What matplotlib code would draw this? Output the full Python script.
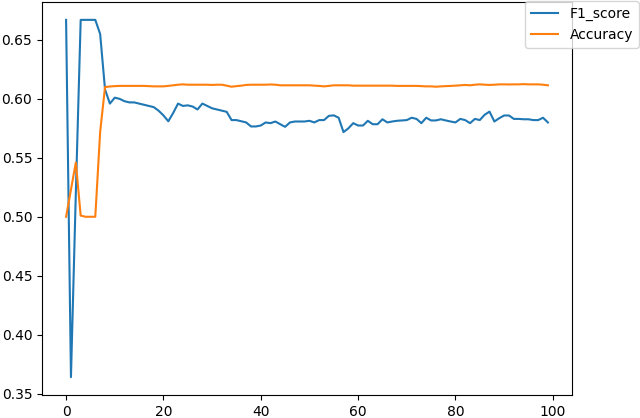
import numpy as np
import matplotlib
matplotlib.use('Agg')
import matplotlib.pyplot as plt

# F1 score per epoch
f1_score = [
    0.667, 0.364, 0.520, 0.667, 0.667, 0.667, 0.667, 0.655, 0.608, 0.596,
    0.601, 0.600, 0.598, 0.597, 0.597, 0.596, 0.595, 0.594, 0.593, 0.590,
    0.586, 0.581, 0.588, 0.596, 0.594, 0.5945, 0.5935, 0.591, 0.596, 0.594,
    0.592, 0.591, 0.590, 0.589, 0.582, 0.582, 0.581, 0.580, 0.5766, 0.5766,
    0.5774, 0.580, 0.5794, 0.5808, 0.5785, 0.5763, 0.580, 0.5808, 0.5808, 0.5808,
    0.5814, 0.580, 0.582, 0.582, 0.5856, 0.586, 0.584, 0.5718, 0.575, 0.5794,
    0.5774, 0.5774, 0.5814, 0.5785, 0.5785, 0.5827, 0.580, 0.5808, 0.5814, 0.5817,
    0.582, 0.584, 0.583, 0.5794, 0.584, 0.5817, 0.5817, 0.5827, 0.5817, 0.5808,
    0.580, 0.583, 0.582, 0.5794, 0.583, 0.582, 0.5865, 0.5892, 0.5808, 0.5836,
    0.5859, 0.5859, 0.583, 0.583, 0.5827, 0.5827, 0.582, 0.582, 0.584, 0.580,
]

# Accuracy per epoch
accuracy = [
    0.500, 0.523, 0.546, 0.501, 0.500, 0.500, 0.500, 0.572, 0.610, 0.6105,
    0.6108, 0.611, 0.611, 0.611, 0.611, 0.611, 0.611, 0.6108, 0.6106, 0.6106,
    0.6106, 0.611, 0.6115, 0.612, 0.6123, 0.612, 0.612, 0.612, 0.612, 0.612,
    0.6118, 0.612, 0.612, 0.6112, 0.6103, 0.6108, 0.6112, 0.6118, 0.612, 0.612,
    0.612, 0.612, 0.6122, 0.612, 0.6115, 0.6115, 0.6115, 0.6115, 0.6115, 0.6115,
    0.6115, 0.6112, 0.611, 0.6106, 0.611, 0.6115, 0.6115, 0.6115, 0.6115, 0.6112,
    0.6112, 0.6112, 0.6112, 0.6112, 0.6112, 0.6112, 0.6112, 0.6112, 0.611, 0.611,
    0.611, 0.611, 0.611, 0.6108, 0.6106, 0.6106, 0.6103, 0.6106, 0.6108, 0.611,
    0.6112, 0.6115, 0.6118, 0.6115, 0.612, 0.6123, 0.612, 0.6118, 0.612, 0.6123,
    0.6123, 0.6122, 0.6123, 0.6123, 0.6125, 0.6123, 0.6123, 0.6123, 0.612, 0.6115,
]

epochs = np.arange(len(f1_score))

fig = plt.figure(figsize=(6.4, 4.18), dpi=100)
ax = fig.add_axes([42 / 640, 1 - 395 / 418, 530 / 640, 393 / 418])

ax.plot(epochs, f1_score, label='F1_score')
ax.plot(epochs, accuracy, label='Accuracy')

# legend sits on the figure corner, overlapping the axes edge
fig.legend(loc='upper right', bbox_to_anchor=(1.0, 1.0), borderaxespad=0.1)

fig.savefig('out.png', dpi=100)
